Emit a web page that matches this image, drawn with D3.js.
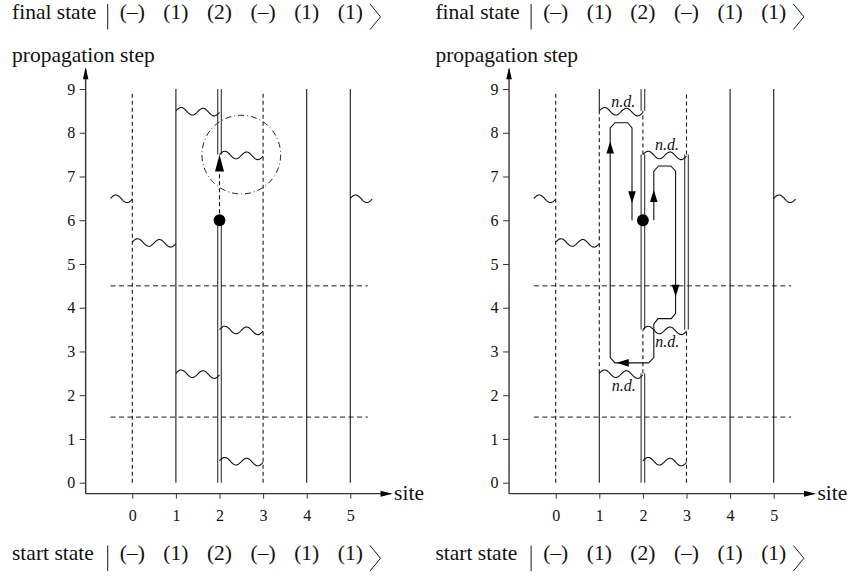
<!DOCTYPE html>
<html>
<head>
<meta charset="utf-8">
<script src="https://cdn.jsdelivr.net/npm/d3@7"></script>
<style>
  body { margin: 0; background: #fff; }
  text { font-family: "Liberation Serif", "Times New Roman", serif; fill: #111; }
</style>
</head>
<body>
<div id="chart"></div>
<script>
// sites and propagation steps
const SITES = [0, 1, 2, 3, 4, 5]
const STEPS = [0, 1, 2, 3, 4, 5, 6, 7, 8, 9]
const FINAL_STATE = ["(–)", "(1)", "(2)", "(–)", "(1)", "(1)"]
const START_STATE = ["(–)", "(1)", "(2)", "(–)", "(1)", "(1)"]
const BLOCK_BORDERS = [4.5, 1.5]

// world lines: [site, from step, to step, kind]
const LEFT_LINES = [
    [0, 0, 8.9, "dash"], [1, 0, 9, "solid"], [2, 0, 6, "double"], [2, 7.5, 9, "double"],
    [3, 0, 8.9, "dash"], [4, 0, 9, "solid"], [5, 0, 9, "solid"]
]
const RIGHT_LINES = [
    [0, 0, 8.9, "dash"],
    [1, 0, 2.5, "solid"], [1, 2.5, 8.5, "dash"], [1, 8.5, 9, "solid"],
    [2, 0, 2.5, "double"], [2, 2.5, 3.5, "dash"], [2, 3.5, 7.5, "double"], [2, 7.5, 8.5, "dash"], [2, 8.5, 9, "double"],
    [3, 0, 3.5, "dash"], [3, 3.5, 7.5, "double"], [3, 7.5, 8.9, "dash"],
    [4, 0, 9, "solid"], [5, 0, 9, "solid"]
]
// wavy bonds: [from site, to site, step]
const WAVES = [
    [-0.5, 0, 6.5], [5, 5.5, 6.5], [0, 1, 5.5], [1, 2, 8.5],
    [2, 3, 7.5], [2, 3, 3.5], [1, 2, 2.5], [2, 3, 0.5]
]
// "n.d." labels: [site, step, above?]
const ND_LABELS = [[1.55, 8.5, true], [2.55, 7.5, true], [2.56, 3.5, false], [1.56, 2.5, false]]
// loop path in right panel: [site, step]
const LOOP = [
    [2.25, 6.0], [2.25, 7.12], [2.36, 7.24], [2.64, 7.24], [2.75, 7.12],
    [2.75, 3.87], [2.65, 3.75], [2.35, 3.75], [2.25, 3.63],
    [2.25, 2.86], [2.13, 2.74], [1.36, 2.74], [1.25, 2.86],
    [1.25, 8.11], [1.36, 8.23], [1.65, 8.23], [1.75, 8.11], [1.75, 6.0]
]
// arrow tips along the loop: [site, step, direction]
const LOOP_ARROWS = [[1.25, 7.8, "up"], [1.75, 6.39, "down"], [2.25, 6.69, "up"], [2.75, 4.25, "down"], [1.4, 2.74, "left"]]

const width = 850, height = 576
const svg = d3.select("#chart").append("svg").attr("width", width).attr("height", height)
svg.append("rect").attr("width", width).attr("height", height).attr("fill", "#fff")

const y = d3.scaleLinear().domain([0, 9]).range([482.7, 89])
const INK = "#1a1a1a"

function arrowHead(g, px, py, dir, len, hw) {
    let pts
    if (dir == "up") pts = [[px, py], [px - hw, py + len], [px + hw, py + len]]
    if (dir == "down") pts = [[px, py], [px - hw, py - len], [px + hw, py - len]]
    if (dir == "left") pts = [[px, py], [px + len, py - hw], [px + len, py + hw]]
    if (dir == "right") pts = [[px, py], [px - len, py - hw], [px - len, py + hw]]
    g.append("path").attr("d", "M" + pts.join("L") + "Z").attr("fill", "#000")
}

function stateRow(g, ox, x, label, states, base) {
    g.append("text").attr("x", 12 + ox).attr("y", base).attr("font-size", 21.5).text(label)
    g.append("line").attr("x1", 107.7 + ox).attr("x2", 107.7 + ox)
        .attr("y1", base - 14.5).attr("y2", base + 11).attr("stroke", INK).attr("stroke-width", 1)
    g.selectAll(null).data(states).join("text")
        .attr("x", (d, i) => x(SITES[i])).attr("y", base)
        .attr("text-anchor", "middle").attr("font-size", 21.5).text(d => d)
    g.append("path")
        .attr("d", `M${370 + ox},${base - 14.5}L${380.5 + ox},${base - 1.7}L${370 + ox},${base + 11}`)
        .attr("fill", "none").attr("stroke", INK).attr("stroke-width", 1)
}

function drawPanel(ox, lines, isRight) {
    const x = d3.scaleLinear().domain([0, 5]).range([132.3 + ox, 350.3 + ox])
    const g = svg.append("g")

    stateRow(g, ox, x, "final state", FINAL_STATE, 18.5)
    stateRow(g, ox, x, "start state", START_STATE, 560)
    g.append("text").attr("x", 12 + ox).attr("y", 61.5).attr("font-size", 21.5).text("propagation step")

    // axes
    const ax = x(-1.07), ay = y(-0.25)
    const xAxis = g.append("g").attr("transform", `translate(0,${ay})`)
        .call(d3.axisBottom(x).tickValues(SITES).tickFormat(d3.format("d"))
            .tickSize(5).tickSizeOuter(0).tickPadding(11))
    const yAxis = g.append("g").attr("transform", `translate(${ax},0)`)
        .call(d3.axisLeft(y).tickValues(STEPS).tickFormat(d3.format("d"))
            .tickSize(6).tickSizeOuter(0).tickPadding(4.5))
    for (const a of [xAxis, yAxis]) {
        a.select(".domain").remove()
        a.selectAll(".tick line").attr("stroke", "#333")
        a.selectAll(".tick text").attr("font-size", 16).attr("font-family", "Liberation Serif").attr("fill", "#111")
    }
    g.append("line").attr("x1", ax).attr("x2", x(5.93)).attr("y1", ay).attr("y2", ay)
        .attr("stroke", "#333").attr("stroke-width", 1.4)
    g.append("line").attr("x1", ax).attr("x2", ax).attr("y1", ay).attr("y2", y(9.45))
        .attr("stroke", "#333").attr("stroke-width", 1.4)
    arrowHead(g, x(5.97), ay, "right", 12, 3)
    arrowHead(g, ax, y(9.5), "up", 12, 2.8)
    g.append("text").attr("x", x(5.97) + 1.5).attr("y", ay + 6).attr("font-size", 21.5).text("site")

    // block borders
    g.selectAll(null).data(BLOCK_BORDERS).join("line")
        .attr("x1", x(-0.5)).attr("x2", x(5.4)).attr("y1", d => y(d)).attr("y2", d => y(d))
        .attr("stroke", INK).attr("stroke-dasharray", "5,3.5")

    // world lines
    for (const [s, a, b, kind] of lines) {
        const offs = kind == "double" ? [-1.8, 1.8] : [0]
        for (const o of offs) {
            g.append("line").attr("x1", x(s) + o).attr("x2", x(s) + o).attr("y1", y(a)).attr("y2", y(b))
                .attr("stroke", kind == "double" ? "#333" : INK).attr("stroke-width", 1.1)
                .attr("stroke-dasharray", kind == "dash" ? "4,3" : null)
        }
    }

    // wavy bonds
    const period = x(0.5) - x(0)
    for (const [s0, s1, t] of WAVES) {
        const x0 = x(s0), x1 = x(s1), n = 60
        const pts = d3.range(n + 1).map(k => {
            const px = x0 + (x1 - x0) * k / n
            return [px, y(t) + 0.8 * (px - x0) / period - 3.6 * Math.sin(2 * Math.PI * (px - x0) / period)]
        })
        g.append("path").attr("d", d3.line()(pts))
            .attr("fill", "none").attr("stroke", "#111").attr("stroke-width", 1.1)
    }

    // walker
    g.append("circle").attr("cx", x(2)).attr("cy", y(6)).attr("r", 5.9).attr("fill", "#000")

    if (!isRight) {
        g.append("line").attr("x1", x(2)).attr("x2", x(2)).attr("y1", y(6)).attr("y2", y(7.1))
            .attr("stroke", "#000").attr("stroke-width", 1.1).attr("stroke-dasharray", "4,3")
        arrowHead(g, x(2), y(7.5), "up", 17, 4.5)
        g.append("circle").attr("cx", x(2.5)).attr("cy", y(7.5)).attr("r", y(0) - y(0.9))
            .attr("fill", "none").attr("stroke", "#222").attr("stroke-dasharray", "6,3,1,3")
    } else {
        g.append("path").attr("d", d3.line().x(d => x(d[0])).y(d => y(d[1]))(LOOP))
            .attr("fill", "none").attr("stroke", "#111").attr("stroke-width", 1.1)
        for (const [s, t, dir] of LOOP_ARROWS) arrowHead(g, x(s), y(t), dir, 12, 3.8)
        g.selectAll(null).data(ND_LABELS).join("text")
            .attr("x", d => x(d[0])).attr("y", d => d[2] ? y(d[1]) - 4.3 : y(d[1]) + 17.5)
            .attr("text-anchor", "middle").attr("font-size", 16).attr("font-style", "italic")
            .text("n.d.")
    }
}

drawPanel(0, LEFT_LINES, false)
drawPanel(423.4, RIGHT_LINES, true)
</script>
</body>
</html>
